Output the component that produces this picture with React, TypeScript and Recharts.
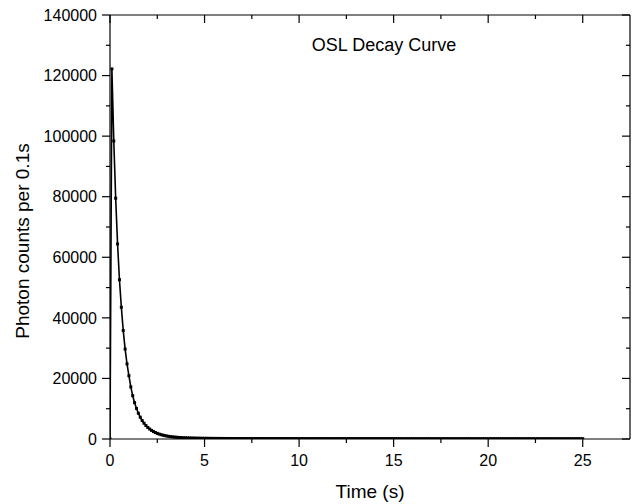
import React from "react";
import { LineChart, Line, XAxis, YAxis } from "recharts";

// channel width of the reader (s)
const channelWidth = 0.1;

// photon counts per channel (0.0 s .. 25.0 s)
const fastCounts = [
  0, 122200, 98400, 79500, 64400, 52600, 43500, 35800, 29700, 24800,
  20900, 17200, 14300, 12000, 10100, 8500, 7200, 6100, 5200, 4450,
  3800, 3280, 2830, 2450, 2130, 1860, 1630, 1430, 1260, 1110,
  990, 880, 790, 710, 640, 580, 530, 480, 440, 410,
];
const tailCounts = [
  380, 356, 333, 317, 297, 284, 269, 259, 246, 238,
  229, 219, 214, 206, 202, 195, 192, 186, 184, 178,
  177, 172, 171, 166, 165, 163, 159, 158, 157, 153,
  152, 151, 150, 147, 146, 146, 143, 142, 141, 140,
  139, 138, 137, 136, 136, 134, 133, 134, 131, 131,
  130, 130, 129, 128, 128, 127, 126, 126, 126, 124,
  124, 124, 123, 123, 122, 121, 121, 122, 120, 120,
  119, 119, 120, 118, 118, 117, 117, 118, 116, 116,
  116, 115, 115, 116, 114, 114, 114, 113, 113, 114,
  113, 112, 112, 112, 113, 111, 111, 111, 111, 110,
  110, 111, 110, 109, 109, 109, 110, 109, 108, 108,
  108, 108, 109, 107, 107, 107, 107, 108, 106, 106,
  106, 106, 106, 107, 105, 105, 105, 105, 106, 105,
  104, 104, 104, 105, 104, 104, 103, 103, 104, 103,
  103, 103, 103, 102, 102, 103, 102, 102, 102, 102,
  102, 101, 101, 102, 101, 101, 101, 101, 101, 100,
  100, 100, 101, 100, 100, 100, 100, 99, 99, 100,
  99, 99, 99, 99, 100, 99, 99, 98, 98, 98,
  98, 98, 99, 98, 98, 98, 98, 98, 97, 97,
  97, 97, 98, 97, 97, 97, 97, 97, 97, 97,
  96, 96, 97, 96, 96, 96, 96, 96, 96, 96,
  96,
];
const counts = [...fastCounts, ...tailCounts];

const xMajorTicks = [0, 5, 10, 15, 20, 25];
const xAllTicks = [0, 2.5, 5, 7.5, 10, 12.5, 15, 17.5, 20, 22.5, 25];
const yMajorTicks = [0, 20000, 40000, 60000, 80000, 100000, 120000, 140000];
const yAllTicks = [
  0, 10000, 20000, 30000, 40000, 50000, 60000, 70000,
  80000, 90000, 100000, 110000, 120000, 130000, 140000,
];

const data = counts.map((c, i) => ({
  t: Math.round(i * channelWidth * 10) / 10,
  counts: c,
}));

const font = '"Liberation Sans", Arial, sans-serif';
const ink = "#000";
const MAJOR = 8;
const MINOR = 4;

const BottomTick = (props: any) => {
  const { x, y, payload } = props;
  const major = xMajorTicks.includes(payload.value);
  return (
    <g>
      <line x1={x} y1={y} x2={x} y2={y + (major ? MAJOR : MINOR)} stroke={ink} strokeWidth={1.2} />
      {major && (
        <text x={x} y={y + 27} textAnchor="middle" fontSize={16} fontFamily={font} fill={ink}>
          {payload.value}
        </text>
      )}
    </g>
  );
};

// top axis: ticks point into the plot
const TopTick = (props: any) => {
  const { x, y, payload } = props;
  const major = xMajorTicks.includes(payload.value);
  return <line x1={x} y1={y} x2={x} y2={y + (major ? MAJOR : MINOR)} stroke={ink} strokeWidth={1.2} />;
};

const LeftTick = (props: any) => {
  const { x, y, payload } = props;
  const major = yMajorTicks.includes(payload.value);
  return (
    <g>
      <line x1={x} y1={y} x2={x - (major ? MAJOR : MINOR)} y2={y} stroke={ink} strokeWidth={1.2} />
      {major && (
        <text x={x - 13} y={y} dy="0.36em" textAnchor="end" fontSize={16} fontFamily={font} fill={ink}>
          {payload.value}
        </text>
      )}
    </g>
  );
};

// right axis: ticks point into the plot
const RightTick = (props: any) => {
  const { x, y, payload } = props;
  const major = yMajorTicks.includes(payload.value);
  return <line x1={x} y1={y} x2={x - (major ? MAJOR : MINOR)} y2={y} stroke={ink} strokeWidth={1.2} />;
};

const SquareDot = (props: any) => {
  const { cx, cy, index } = props;
  if (cx == null || cy == null) return <g key={index} />;
  return <rect key={index} x={cx - 1.5} y={cy - 1.5} width={3} height={3} fill={ink} />;
};

const axisLine = { stroke: ink, strokeWidth: 1.2 };

export default function App() {
  return (
    <div style={{ position: "absolute", left: 0, top: 0, width: 632, height: 504, background: "#fff", fontFamily: font }}>
      <LineChart width={632} height={504} data={data} margin={{ top: 14, right: 1, bottom: 0, left: 0 }}>
        <XAxis
          xAxisId="x"
          type="number"
          dataKey="t"
          domain={[0, 27.5]}
          allowDataOverflow
          ticks={xAllTicks}
          interval={0}
          tickSize={0}
          tickMargin={0}
          tickLine={false}
          tick={BottomTick}
          axisLine={axisLine}
          height={65}
        />
        <XAxis
          xAxisId="top"
          orientation="top"
          type="number"
          dataKey="t"
          domain={[0, 27.5]}
          allowDataOverflow
          ticks={xAllTicks}
          interval={0}
          tickSize={0}
          tickMargin={0}
          tickLine={false}
          tick={TopTick}
          axisLine={axisLine}
          height={1}
        />
        <YAxis
          yAxisId="left"
          type="number"
          domain={[0, 140000]}
          allowDataOverflow
          ticks={yAllTicks}
          interval={0}
          tickSize={0}
          tickMargin={0}
          tickLine={false}
          tick={LeftTick}
          axisLine={axisLine}
          width={110}
        />
        <YAxis
          yAxisId="right"
          orientation="right"
          type="number"
          domain={[0, 140000]}
          allowDataOverflow
          ticks={yAllTicks}
          interval={0}
          tickSize={0}
          tickMargin={0}
          tickLine={false}
          tick={RightTick}
          axisLine={axisLine}
          width={1}
        />
        <Line
          xAxisId="x"
          yAxisId="left"
          type="linear"
          dataKey="counts"
          stroke={ink}
          strokeWidth={1.6}
          dot={SquareDot}
          activeDot={false}
          isAnimationActive={false}
        />
        {/* invisible series so the mirror axes get scales */}
        <Line
          xAxisId="top"
          yAxisId="right"
          type="linear"
          dataKey="counts"
          stroke="none"
          dot={false}
          activeDot={false}
          legendType="none"
          isAnimationActive={false}
        />
      </LineChart>
      <div style={{ position: "absolute", left: 384, top: 36, transform: "translateX(-50%)", fontSize: 18, lineHeight: "18px", whiteSpace: "nowrap", color: ink }}>
        OSL Decay Curve
      </div>
      <div style={{ position: "absolute", left: 370, top: 482, transform: "translateX(-50%)", fontSize: 19, lineHeight: "19px", whiteSpace: "nowrap", color: ink }}>
        Time (s)
      </div>
      <div style={{ position: "absolute", left: 22, top: 241, transform: "translate(-50%, -50%) rotate(-90deg)", fontSize: 19, lineHeight: "19px", whiteSpace: "nowrap", color: ink }}>
        Photon counts per 0.1s
      </div>
    </div>
  );
}
